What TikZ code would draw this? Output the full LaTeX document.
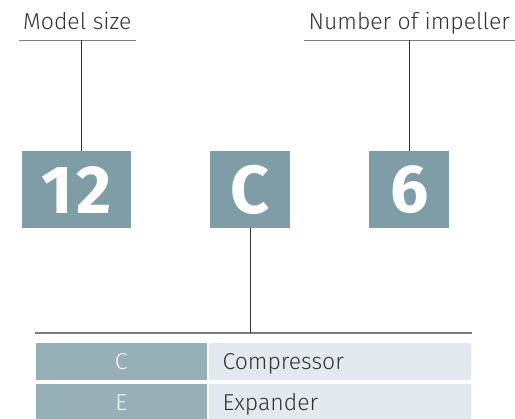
\documentclass[tikz,border=0pt]{standalone}
\usepackage{fontspec}
\setmainfont{Fira Sans}[UprightFont=* Light, BoldFont=* Bold]
\usetikzlibrary{positioning}
\definecolor{codebox}{HTML}{7F9DA6}
\definecolor{keycell}{HTML}{97AFB6}
\definecolor{valcell}{HTML}{E3EAEF}
\definecolor{rulegray}{HTML}{7C7C7C}
\definecolor{leadgray}{HTML}{333333}

\begin{document}
\begin{tikzpicture}[x=1pt, y=-1pt,
    codebox/.style={anchor=north west, fill=codebox, text=white, inner sep=0pt,
        minimum height=77pt, font=\fontsize{68}{68}\selectfont\bfseries},
    caption/.style={inner xsep=4pt, inner ysep=10pt, text depth=0pt, text=leadgray,
        font=\fontsize{23}{23}\selectfont},
    keycell/.style={fill=keycell, text=white!92!keycell, minimum width=171pt, minimum height=37pt,
        inner sep=0pt, text height=16pt, text depth=0pt, font=\fontsize{23}{23}\selectfont},
    valcell/.style={fill=valcell, text=leadgray, text width=235pt, inner xsep=13.5pt, inner ysep=0pt,
        minimum height=37pt, align=left, text height=16pt, text depth=0pt, font=\fontsize{23}{23}\selectfont},
    lead/.style={leadgray, line width=0.8pt},
    rule/.style={rulegray, line width=1.2pt}]
    \useasboundingbox (0,0) rectangle (515,419);

    \node[caption, anchor=base west] (size) at (19, 30) {Model size};
    \node[caption, anchor=base east, minimum width=211pt] (imp) at (515, 30) {Number of impeller};

    \node[codebox, minimum width=109pt] (b12) at (22, 151) {1\kern3pt2};
    \node[codebox, minimum width=80pt] (bC) at (210, 151) {C};
    \node[codebox, minimum width=80pt] (b6) at (369, 151) {6};

    \coordinate (tl) at (35, 333);
    \coordinate (tr) at (472, 333);

    \node[keycell, anchor=north west] (keyC) at (35.5, 343) {C};
    \node[valcell, right=2pt of keyC] (valC) {Compressor};
    \node[keycell, below=3pt of keyC] (keyE) {E};
    \node[valcell, right=2pt of keyE] (valE) {Expander};

    % under lines
    \draw[rule] (size.south west) -- (size.south east);
    \draw[rule] (imp.south west) -- (imp.south east);
    \draw[rule] (tl) -- (tr);

    \draw[lead] ([xshift=4.5pt]b12.north) -- ([xshift=4.5pt]b12.north |- size.south);
    \draw[lead] (b6.north) -- (b6.north |- imp.south);
    \draw[lead] (bC.south) -- (bC.south |- tl);
\end{tikzpicture}
\end{document}
